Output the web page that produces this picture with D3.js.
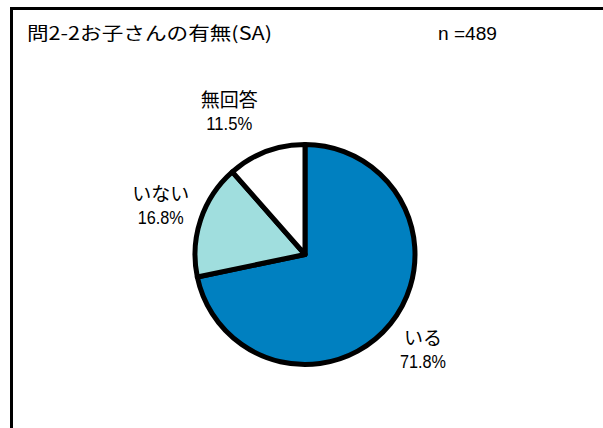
<!DOCTYPE html>
<html><head><meta charset="utf-8">
<script src="https://cdn.jsdelivr.net/npm/d3@7"></script>
<style>
html,body{margin:0;padding:0;background:#fff;}
svg{display:block;}
</style></head>
<body>
<script>
const categories = ["いる", "いない", "無回答"];
const values = [71.8, 16.8, 11.5];
const colors = ["#0080C0", "#A0DEDE", "#FFFFFF"];
const title = "問2-2お子さんの有無(SA)";
const nLabel = "n =489";

const W = 603, H = 428;
const svg = d3.select("body").append("svg").attr("width", W).attr("height", H);

// frame
svg.append("path").attr("d", `M11.5,${H} L11.5,8.5 L${W},8.5`)
  .attr("fill", "none").attr("stroke", "#000").attr("stroke-width", 3);

svg.append("text").attr("x", 27).attr("y", 40)
  .attr("font-family", "'Noto Sans CJK JP', sans-serif").attr("font-size", 18)
  .attr("textLength", 245).attr("lengthAdjust", "spacingAndGlyphs")
  .text(title);

svg.append("text").attr("x", 438).attr("y", 40)
  .attr("font-family", "'Liberation Sans', Arial, sans-serif").attr("font-size", 18)
  .attr("textLength", 59).attr("lengthAdjust", "spacingAndGlyphs")
  .text(nLabel);

const cx = 305, cy = 254.5, R = 110;
const pie = d3.pie().sort(null).value(d => d)(values);
const arc = d3.arc().innerRadius(0).outerRadius(R);
const g = svg.append("g").attr("transform", `translate(${cx},${cy})`);
g.selectAll("path").data(pie).join("path")
  .attr("d", arc)
  .attr("fill", (d, i) => colors[i])
  .attr("stroke", "#000").attr("stroke-width", 5).attr("stroke-linejoin", "round");

// labels
const labelArc = d3.arc().innerRadius(152).outerRadius(152);
const labelShift = [[0, 0], [0, 0], [-22, 0]];
const lg = g.selectAll("g.lbl").data(pie).join("g").attr("class", "lbl")
  .attr("transform", (d, i) => {
    const c = labelArc.centroid(d);
    return `translate(${c[0] + labelShift[i][0]},${c[1] + labelShift[i][1]})`;
  });
lg.append("text").attr("text-anchor", "middle").attr("y", -5)
  .attr("font-family", "'Noto Sans CJK JP', sans-serif").attr("font-size", 19)
  .text((d, i) => categories[i]);
lg.append("text").attr("text-anchor", "middle").attr("y", 18)
  .attr("font-family", "'Liberation Sans', sans-serif").attr("font-size", 18)
  .attr("textLength", 46).attr("lengthAdjust", "spacingAndGlyphs")
  .text((d, i) => values[i].toFixed(1) + "%");
</script>
</body></html>
